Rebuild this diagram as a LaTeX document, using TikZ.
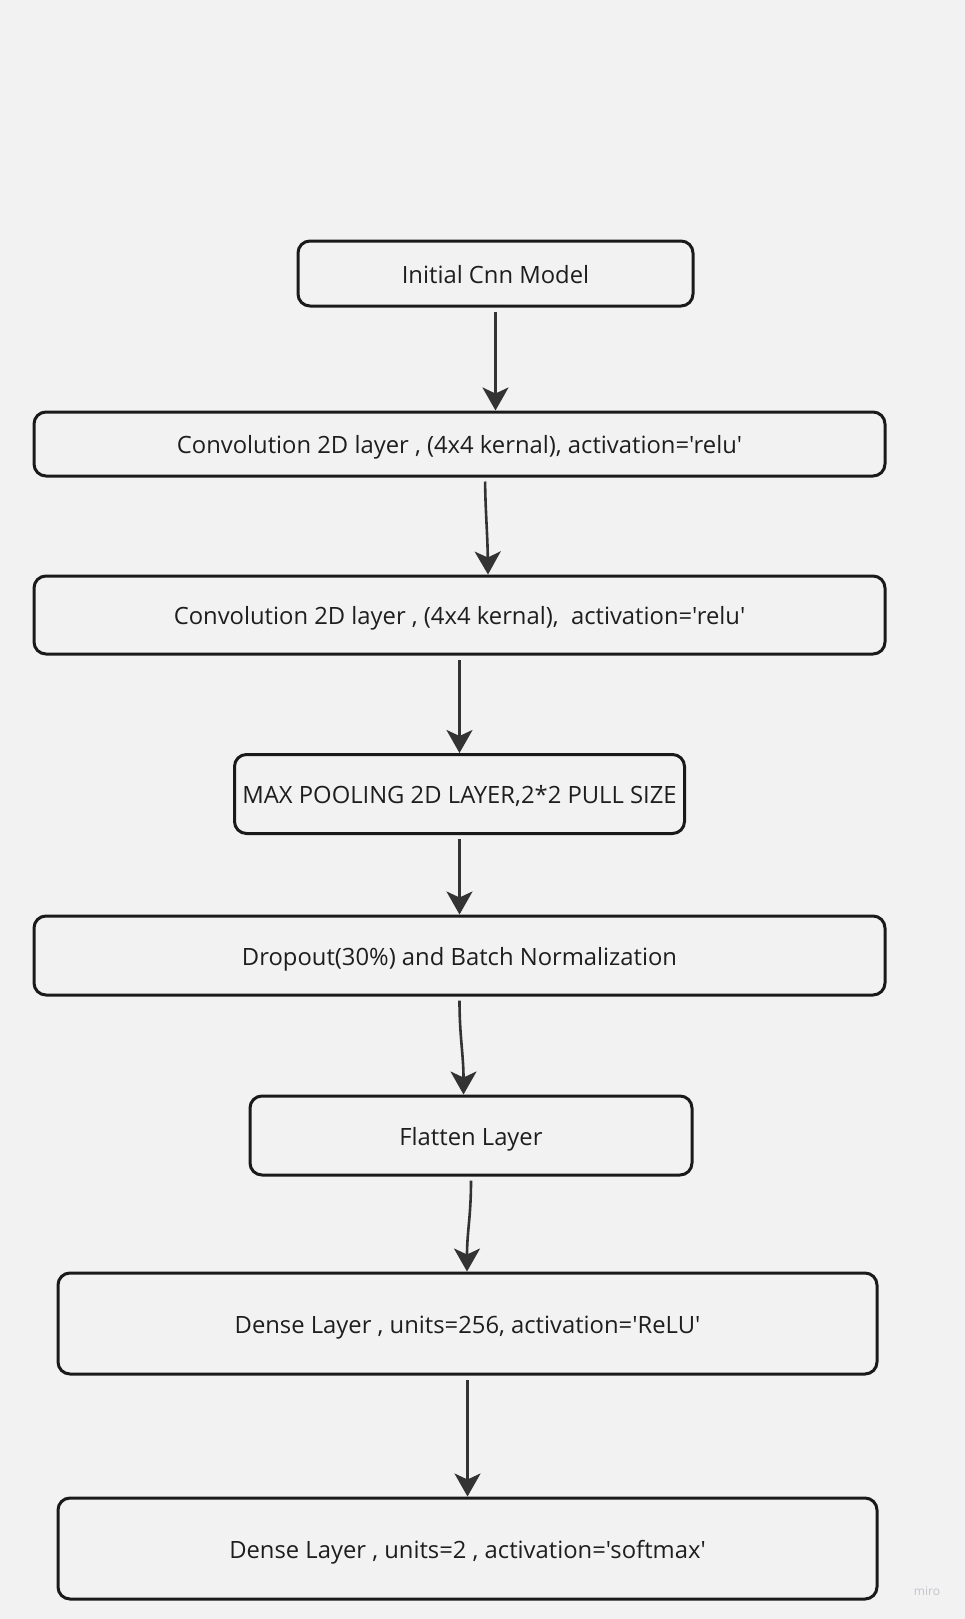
\documentclass[tikz,border=0pt]{standalone}
\usepackage{fontspec}
\setmainfont{Open Sans}[Ligatures=TeXOff]
\usetikzlibrary{arrows.meta}
\definecolor{bgc}{HTML}{F2F2F2}
\definecolor{boxline}{HTML}{1A1A1A}
\definecolor{arrc}{HTML}{333333}
\definecolor{txtc}{HTML}{1E1E1E}
\definecolor{wmark}{HTML}{C4C4CC}
\tikzset{
  layerbox/.style={draw=boxline, line width=3pt, fill=bgc, rounded corners=12pt,
    inner sep=0pt, text=txtc, font=\fontsize{23.8}{28}\selectfont,
    text height=19.5pt, text depth=0pt},
  flowarrow/.style={draw=arrc, line width=2.6pt,
    -{Stealth[length=23pt,width=26pt,inset=6pt]}, shorten <=4pt},
}
\begin{document}
\begin{tikzpicture}[x=1pt,y=-1pt]
\fill[bgc] (0,0) rectangle (965,1619);
\useasboundingbox (0,0) rectangle (965,1619);

\node[layerbox, minimum width=395, minimum height=65] (init) at (495.5,273.5) {Initial Cnn Model};
\node[layerbox, minimum width=851, minimum height=64] (conv1) at (459.5,444) {Convolution 2D layer , (4x4 kernal), activation='relu'};
\node[layerbox, minimum width=851, minimum height=78] (conv2) at (459.5,615) {Convolution 2D layer , (4x4 kernal), \ activation='relu'};
\node[layerbox, minimum width=450, minimum height=79] (pool) at (459.5,794) {MAX POOLING 2D LAYER,2*2 PULL SIZE};
\node[layerbox, minimum width=851, minimum height=79] (drop) at (459.5,955.5) {Dropout(30\%) and Batch Normalization};
\node[layerbox, minimum width=442, minimum height=79] (flat) at (471,1135.5) {Flatten Layer};
\node[layerbox, minimum width=819, minimum height=101] (dense1) at (467.5,1323.5) {Dense Layer , units=256, activation='ReLU'};
\node[layerbox, minimum width=819, minimum height=101] (dense2) at (467.5,1548.5) {Dense Layer , units=2 , activation='softmax'};

\node[text=wmark, font=\fontsize{12}{14}\selectfont] (miro) at (927,1591) {miro};

\draw[flowarrow] (init.south) -- (init.south |- conv1.north);
\draw[flowarrow] ([xshift=25.5pt]conv1.south) .. controls ([xshift=26pt,yshift=-35pt]conv1.south) and ([xshift=28pt,yshift=40pt]conv2.north) .. ([xshift=28.5pt]conv2.north);
\draw[flowarrow] (conv2.south) -- (pool.north);
\draw[flowarrow] (pool.south) -- (drop.north);
\draw[flowarrow] (drop.south) .. controls ([yshift=-40pt]drop.south) and ([xshift=4pt,yshift=40pt]drop.south |- flat.north) .. ([xshift=4pt]drop.south |- flat.north);
\draw[flowarrow] (flat.south) .. controls ([yshift=-40pt]flat.south) and ([xshift=-4pt,yshift=40pt]flat.south |- dense1.north) .. ([xshift=-4pt]flat.south |- dense1.north);
\draw[flowarrow] (dense1.south) -- (dense2.north);
\end{tikzpicture}
\end{document}
